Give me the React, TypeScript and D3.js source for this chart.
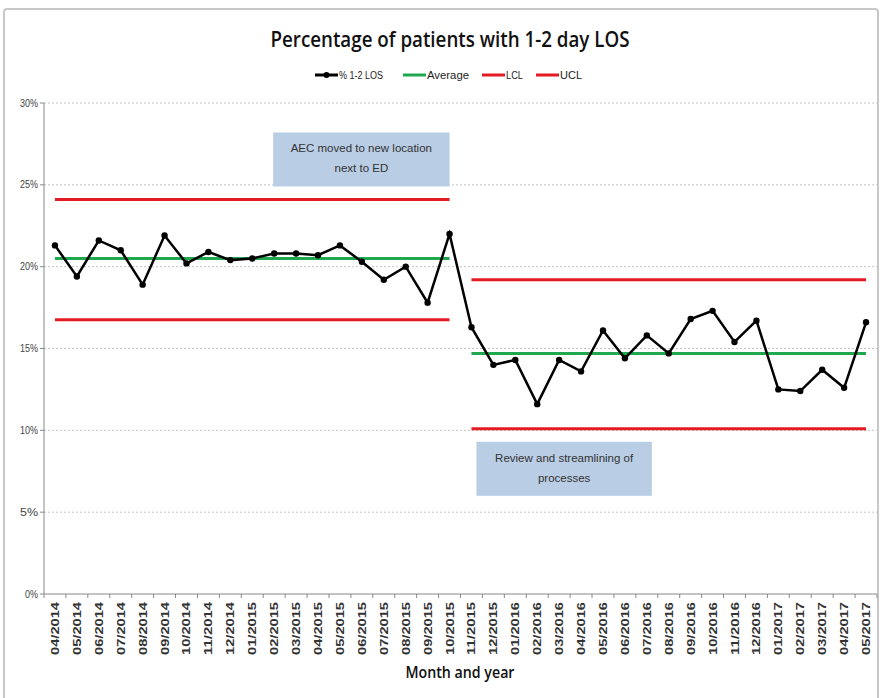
import React from "react";
import * as d3 from "d3";

const months = [
  "04/2014","05/2014","06/2014","07/2014","08/2014","09/2014","10/2014","11/2014","12/2014",
  "01/2015","02/2015","03/2015","04/2015","05/2015","06/2015","07/2015","08/2015","09/2015","10/2015",
  "11/2015","12/2015","01/2016","02/2016","03/2016","04/2016","05/2016","06/2016","07/2016","08/2016",
  "09/2016","10/2016","11/2016","12/2016","01/2017","02/2017","03/2017","04/2017","05/2017",
];
const losPct = [
  21.3, 19.4, 21.6, 21.0, 18.9, 21.9, 20.2, 20.9, 20.4,
  20.5, 20.8, 20.8, 20.7, 21.3, 20.3, 19.2, 20.0, 17.8, 22.0,
  16.3, 14.0, 14.3, 11.6, 14.3, 13.6, 16.1, 14.4, 15.8, 14.7,
  16.8, 17.3, 15.4, 16.7, 12.5, 12.4, 13.7, 12.6, 16.6,
];
// phases: start/end index, average, lcl, ucl
const phaseStart = [0, 19];
const phaseEnd = [18, 37];
const phaseAvg = [20.5, 14.7];
const phaseLCL = [16.75, 10.1];
const phaseUCL = [24.1, 19.2];
const yTicks = [0, 5, 10, 15, 20, 25, 30];
const title = "Percentage of patients with 1-2 day LOS";
const xTitle = "Month and year";
const legendLabels = ["% 1-2 LOS", "Average", "LCL", "UCL"];
const legendColors = ["#000000", "#1fa84f", "#e31b23", "#e31b23"];
const noteLines = [
  ["AEC moved to new location", "next to ED"],
  ["Review and streamlining of", "processes"],
];
const noteTop = [28.2, 9.3];
const noteBottom = [24.9, 6.0];

const W = 882, H = 698;
const L = 44, R = 877, T = 103, B = 594;
const FONT = "'Liberation Sans', Arial, sans-serif";

export default function App() {
  const x = d3.scaleBand<string>().domain(months).range([L, R]).paddingInner(0).paddingOuter(0);
  const cx = (i: number) => (x(months[i]) as number) + x.bandwidth() / 2;
  const y = d3.scaleLinear().domain([0, 30]).range([B, T]);
  const line = d3.line<number>().x((_, i) => cx(i)).y((d) => y(d));

  const legendX = [315, 403, 482, 536];
  const legendW = [44, 42, 17, 22];
  const noteX0 = [cx(10) - 1, cx(19) + 5];
  const noteX1 = [cx(18), cx(27) + 5];

  return (
    <svg width={W} height={H} style={{ position: "absolute", left: 0, top: 0, background: "#fff" }}>
      <rect x={4} y={9} width={874} height={700} fill="#fff" stroke="#c8c8c8" strokeWidth={2} rx={3} />
      <text x={450} y={47} textAnchor="middle" fontFamily="'Open Sans', 'Liberation Sans', sans-serif" fontWeight={600} fontSize={22} fill="#111" textLength={359} lengthAdjust="spacingAndGlyphs">{title}</text>
      {legendLabels.map((lab, k) => (
        <g key={lab} transform={`translate(${legendX[k]},75)`}>
          <line x1={0} x2={23} y1={0} y2={0} stroke={legendColors[k]} strokeWidth={3} />
          {k === 0 && <circle cx={11.5} cy={0} r={3} fill="#000" />}
          <text x={24} y={4} fontFamily={FONT} fontSize={11} fill="#222" textLength={legendW[k]} lengthAdjust="spacingAndGlyphs">{lab}</text>
        </g>
      ))}
      {yTicks.map((t) => (
        <g key={t}>
          {t > 0 && (
            <line x1={L} x2={R} y1={y(t)} y2={y(t)} stroke="#c4c4c4" strokeDasharray="2,2" strokeWidth={1} />
          )}
          <line x1={L - 4} x2={L} y1={y(t)} y2={y(t)} stroke="#888" />
          <text x={L - 6} y={y(t) + 3.5} textAnchor="end" fontFamily={FONT} fontSize={10} fill="#444" textLength={t === 0 ? 13 : 18} lengthAdjust="spacingAndGlyphs">{t}%</text>
        </g>
      ))}
      <line x1={L} x2={L} y1={T} y2={B} stroke="#888" />
      <line x1={L} x2={R} y1={B} y2={B} stroke="#888" />
      {months.map((m, i) => (
        <g key={m}>
          <line x1={x(m) as number} x2={x(m) as number} y1={B} y2={B + 4} stroke="#888" />
          <text
            transform={`translate(${cx(i) + 4},${B + 8}) rotate(-90)`}
            textAnchor="end"
            fontFamily={FONT}
            fontSize={11}
            fontWeight="bold"
            fill="#333"
            textLength={53}
            lengthAdjust="spacingAndGlyphs"
          >
            {m}
          </text>
        </g>
      ))}
      <line x1={R} x2={R} y1={B} y2={B + 4} stroke="#888" />
      <text x={460} y={678} textAnchor="middle" fontFamily="'Open Sans', 'Liberation Sans', sans-serif" fontWeight={600} fontSize={16} fill="#111" textLength={109} lengthAdjust="spacingAndGlyphs">{xTitle}</text>

      {noteLines.map((lines, k) => {
        const x0 = noteX0[k];
        const x1 = noteX1[k];
        const y0 = y(noteTop[k]), y1 = y(noteBottom[k]);
        return (
          <g key={k}>
            <rect x={x0} y={y0} width={x1 - x0} height={y1 - y0} fill="#b9cde5" />
            {lines.map((ln, j) => (
              <text key={j} x={(x0 + x1) / 2} y={y0 + 20 + j * 20} textAnchor="middle" fontFamily={FONT} fontSize={11.5} fill="#333">{ln}</text>
            ))}
          </g>
        );
      })}

      {phaseStart.map((s, p) => {
        const e = phaseEnd[p];
        return (
          <g key={p}>
            <line x1={cx(s)} x2={cx(e)} y1={y(phaseUCL[p])} y2={y(phaseUCL[p])} stroke="#e31b23" strokeWidth={3} />
            <line x1={cx(s)} x2={cx(e)} y1={y(phaseLCL[p])} y2={y(phaseLCL[p])} stroke="#e31b23" strokeWidth={3} />
            <line x1={cx(s)} x2={cx(e)} y1={y(phaseAvg[p])} y2={y(phaseAvg[p])} stroke="#1fa84f" strokeWidth={3} />
          </g>
        );
      })}
      <path d={line(losPct) as string} fill="none" stroke="#000" strokeWidth={2.5} />
      {losPct.map((v, i) => (
        <circle key={i} cx={cx(i)} cy={y(v)} r={3.2} fill="#000" />
      ))}
    </svg>
  );
}
